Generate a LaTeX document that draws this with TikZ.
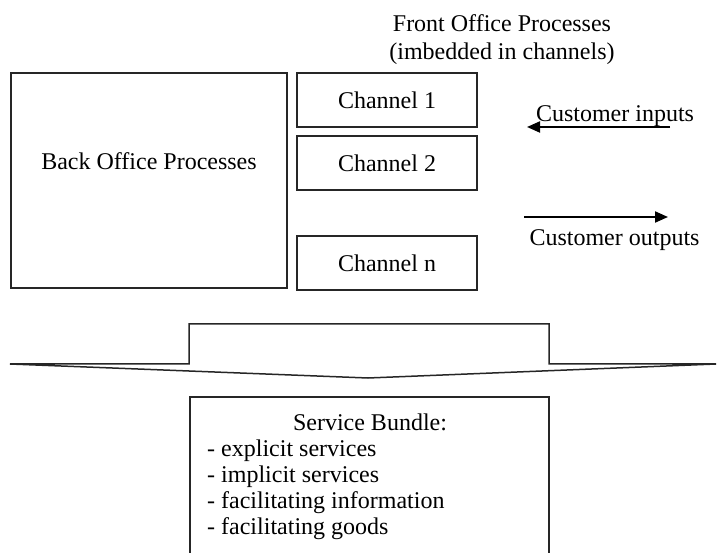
\documentclass[tikz,border=0pt]{standalone}
\usepackage{fontspec}
\setmainfont{Liberation Serif}
\usetikzlibrary{positioning,arrows.meta}

\begin{document}
\begin{tikzpicture}[x=1pt,y=-1pt,
  font=\fontsize{24}{28}\selectfont,
  box node/.style={draw=black!85,line width=1.5pt,inner sep=0pt,outer sep=0pt},
  chan node/.style={box node,minimum width=180pt,minimum height=54pt},
  txt node/.style={inner sep=0pt},
  flow/.style={line width=2pt,-{Triangle[length=13pt,width=11pt]}}]

  \useasboundingbox (0,0) rectangle (718,553);

  % back office block and the channels beside it
  \node[box node, minimum width=276pt, minimum height=215pt] (back) at (149,180.5) {};
  \node[txt node] (backtxt) at (149,161) {Back Office Processes};

  \node[chan node] (c1) at (387,100) {Channel 1};
  \node[chan node, below=9pt of c1] (c2) {Channel 2};
  \node[chan node, below=46pt of c2] (cn) {Channel n};

  \node[txt node, align=center] (front) at (502,40)
    {Front Office Processes\\(imbedded in channels)};

  % customer flows
  \coordinate (inS) at (670,127);
  \coordinate (inE) at (527,127);
  \coordinate (outS) at (524,217);
  \coordinate (outE) at (668,217);
  \draw[flow] (inS) -- (inE);
  \draw[flow] (outS) -- (outE);
  \node[txt node, anchor=base] (intxt) at (615,122) {Customer inputs};
  \node[txt node, anchor=base] (outtxt) at (614.5,246) {Customer outputs};

  % the wide arrow pointing down
  \draw[line width=1.5pt, draw=black!85, line join=miter]
    (10,364) -- (189,364) -- (189,324) -- (549,324) -- (549,364)
    -- (716,364) -- (368,378) -- cycle;

  % result
  \node[box node, anchor=north west, minimum width=359pt, minimum height=170pt]
    (bundle) at (190,397) {};
  \node[txt node, anchor=base] (bundletitle) at (370,430) {Service Bundle:};
  \node[txt node, anchor=north west, align=left, font=\fontsize{24}{26}\selectfont]
    (bundlelist) at (207,440)
    {- explicit services\\- implicit services\\- facilitating information\\- facilitating goods};
\end{tikzpicture}
\end{document}
